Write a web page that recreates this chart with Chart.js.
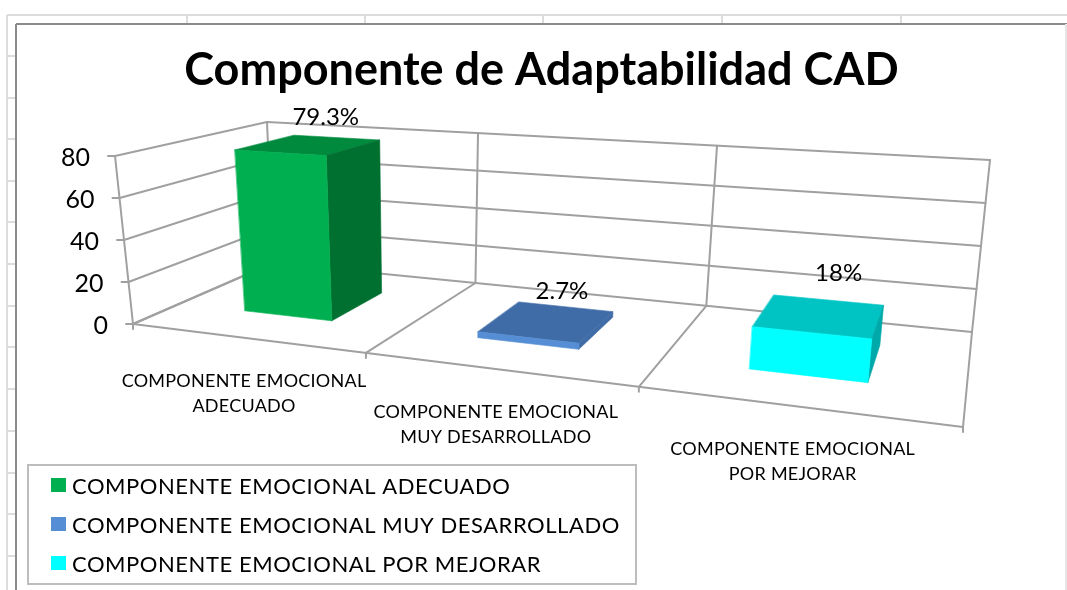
<!DOCTYPE html>
<html><head><meta charset="utf-8">
<style>html,body{margin:0;padding:0;background:#fff}#wrap{width:1067px;height:590px}canvas{display:block}</style>
<script src="https://cdn.jsdelivr.net/npm/chart.js@4/dist/chart.umd.min.js"></script>
</head><body><div id="wrap"><canvas id="c" width="1067" height="590"></canvas></div>
<script>
const titleText = "Componente de Adaptabilidad CAD";
const categories = [["COMPONENTE EMOCIONAL","ADECUADO"],["COMPONENTE EMOCIONAL","MUY DESARROLLADO"],["COMPONENTE EMOCIONAL","POR MEJORAR"]];
const values = [79.3, 2.7, 18];
const valueLabels = ["79.3%","2.7%","18%"];
const frontColors = ["#00b050","#558ed5","#00ffff"];
const topColors = ["#008a3e","#3f6ca6","#00c4c4"];
const sideColors = ["#007030","#3f6ca6","#00a9a9"];
const yMax = 80, yStep = 20;

// projection of the 3D box (u along categories, d depth, v height)
const floorQuad = [[133,324],[963,427],[972,332],[273,263]];
const topQuad = [[115,156],[985,213],[990,160],[267,122]];
const depthRange = [0.3,0.72];
const labelNudge = [[-54,-23],[-51,-20],[-45,-32]];

function squareToQuad(q){
  const [x0,y0]=q[0],[x1,y1]=q[1],[x2,y2]=q[2],[x3,y3]=q[3];
  const sx=x0-x1+x2-x3, sy=y0-y1+y2-y3, dx1=x1-x2, dx2=x3-x2, dy1=y1-y2, dy2=y3-y2;
  const den=dx1*dy2-dx2*dy1;
  const g=(sx*dy2-dx2*sy)/den, h=(dx1*sy-sx*dy1)/den;
  const a=x1-x0+g*x1, b=x3-x0+h*x3, c=x0, d=y1-y0+g*y1, e=y3-y0+h*y3, f=y0;
  return (u,v)=>{const w=g*u+h*v+1;return [(a*u+b*v+c)/w,(d*u+e*v+f)/w];};
}
const Hf=squareToQuad(floorQuad), Ht=squareToQuad(topQuad);
function P(u,v,d){const a=Hf(u,d),b=Ht(u,d);return [a[0]+(b[0]-a[0])*v,a[1]+(b[1]-a[1])*v];}

function line(ctx,a,b){ctx.beginPath();ctx.moveTo(a[0],a[1]);ctx.lineTo(b[0],b[1]);ctx.stroke();}
function poly(ctx,pts,fill){ctx.fillStyle=fill;ctx.strokeStyle=fill;ctx.lineWidth=0.6;ctx.beginPath();pts.forEach((p,i)=>i?ctx.lineTo(p[0],p[1]):ctx.moveTo(p[0],p[1]));ctx.closePath();ctx.fill();ctx.stroke();}

const sheetPlugin={id:'sheet',beforeDraw(chart){
  const ctx=chart.ctx;ctx.save();
  ctx.fillStyle='#fff';ctx.fillRect(0,0,1067,590);
  ctx.strokeStyle='#dcdcdc';ctx.lineWidth=2;
  line(ctx,[7,590],[7,15]);line(ctx,[7,15],[1067,15]);
  [187,365,543,722,901].forEach(x=>line(ctx,[x,15],[x,24]));
  [56,98,139,181,222,264,306,347,389,431,473,514,556].forEach(y=>line(ctx,[7,y],[16,y]));
  ctx.strokeStyle='#8a8a8a';
  line(ctx,[16,590],[16,24]);line(ctx,[16,24],[1067,24]);
  ctx.strokeStyle='#e6e6e6';line(ctx,[1066,24],[1066,590]);
  ctx.restore();
}};

const box3dPlugin={id:'box3d',beforeDatasetsDraw(chart){
  const ctx=chart.ctx,ca=chart.chartArea,ys=chart.scales.y,xs=chart.scales.x;
  const nU=px=>(px-ca.left)/(ca.right-ca.left), nV=px=>(ca.bottom-px)/(ca.bottom-ca.top);
  const font=(s,w)=>`${w||''} ${s}px Lato`;
  ctx.save();
  // walls, floor, gridlines
  ctx.strokeStyle='#a0a0a0';ctx.lineWidth=2;ctx.lineCap='round';
  ys.ticks.forEach(t=>{
    const v=nV(ys.getPixelForValue(t.value));
    line(ctx,P(0,v,0),P(0,v,1));line(ctx,P(0,v,1),P(1,v,1));
    const a=P(0,v,0);line(ctx,[a[0]-7,a[1]],a);
  });
  const n=categories.length;
  for(let i=0;i<=n;i++){
    const u=i/n;
    line(ctx,P(u,0,1),P(u,1,1));
    line(ctx,P(u,0,0),P(u,0,1));
    const a=P(u,0,0);line(ctx,a,[a[0],a[1]+5]);
  }
  line(ctx,P(0,0,0),P(0,1,0));
  line(ctx,P(0,0,0),P(1,0,0));
  // bars
  const meta=chart.getDatasetMeta(0);
  const [d0,d1]=depthRange;
  meta.data.forEach((el,i)=>{
    const u0=nU(el.x-el.width/2),u1=nU(el.x+el.width/2),v1=nV(el.y),v0=nV(el.base);
    poly(ctx,[P(u0,v1,d0),P(u1,v1,d0),P(u1,v1,d1),P(u0,v1,d1)],topColors[i]);
    poly(ctx,[P(u1,v0,d0),P(u1,v0,d1),P(u1,v1,d1),P(u1,v1,d0)],sideColors[i]);
    poly(ctx,[P(u0,v0,d0),P(u1,v0,d0),P(u1,v1,d0),P(u0,v1,d0)],frontColors[i]);
  });
  // value labels
  ctx.fillStyle='#000';ctx.textAlign='center';ctx.textBaseline='middle';
  ctx.font=font(24);
  meta.data.forEach((el,i)=>{
    const p=P(nU(el.x+el.width/2),nV(el.y),d1);
    ctx.fillText(valueLabels[i],p[0]+labelNudge[i][0],p[1]+labelNudge[i][1]);
  });
  // y tick labels
  ctx.textAlign='right';ctx.font=font(25);
  ys.ticks.forEach(t=>{
    const a=P(0,nV(ys.getPixelForValue(t.value)),0);
    ctx.fillText(t.label,a[0]-25,a[1]+2);
  });
  // category labels
  ctx.textAlign='center';ctx.font=font(18);ctx.letterSpacing='0.25px';
  categories.forEach((lines,i)=>{
    const a=P(nU(xs.getPixelForValue(i)),0,0);
    lines.forEach((s,k)=>ctx.fillText(s,a[0]-1,a[1]+43+k*25.5));
  });
  // legend
  ctx.strokeStyle='#bdbdbd';ctx.lineWidth=2;ctx.strokeRect(28,465,608,119);
  ctx.textAlign='left';ctx.font=font(22);ctx.letterSpacing='0.55px';
  categories.forEach((lines,i)=>{
    const y=487+i*39;
    ctx.fillStyle=frontColors[i];ctx.fillRect(51,y-9,15,14);
    ctx.fillStyle='#000';ctx.fillText(lines.join(' '),72,y);
  });
  ctx.restore();
  return false;
}};

new Chart(document.getElementById('c'),{
  type:'bar',
  data:{labels:categories.map(l=>l.join(' ')),datasets:[{data:values,backgroundColor:frontColors,categoryPercentage:1,barPercentage:0.39}]},
  options:{
    responsive:false,animation:false,
    layout:{padding:{left:16,top:24}},
    plugins:{
      legend:{display:false},tooltip:{enabled:false},
      title:{display:true,text:titleText,color:'#000',font:{family:'Lato',size:45,weight:'bold'},padding:{top:19,bottom:10}}
    },
    scales:{
      x:{display:false},
      y:{display:false,min:0,max:yMax,ticks:{stepSize:yStep}}
    }
  },
  plugins:[sheetPlugin,box3dPlugin]
});
</script></body></html>
